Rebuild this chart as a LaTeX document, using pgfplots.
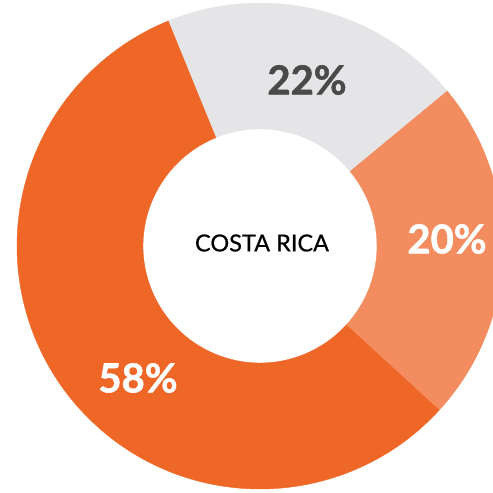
\documentclass[border=0pt]{standalone}
\usepackage{fontspec}
\setmainfont{Lato}
\newfontfamily\pctfont{Lato}[BoldFeatures={FakeBold=1.4}]
\newfontfamily\ctrfont{Lato}[FakeBold=0.5]
\usepackage{pgfplots}
\pgfplotsset{compat=1.18}
\usepackage{pgfplotstable}

\definecolor{slgray}{RGB}{229,229,231}
\definecolor{sllight}{RGB}{243,140,94}
\definecolor{sldark}{RGB}{239,103,39}
\definecolor{lblgray}{RGB}{74,74,74}

% slices as drawn: share (%), start and end angle (deg), colour
% all slices sit at the donut centre (260,247) in picture pixels
\pgfplotstableread{
x   y   share a0     a1     col
260 247 20.2  112.2  39.6   slgray
260 247 22.8  39.6   -42.5  sllight
260 247 57.0  -42.5  -247.8 sldark
}\slices

\begin{document}
\begin{tikzpicture}
\useasboundingbox (0,0) rectangle (493pt,493pt);
\clip (0,0) rectangle (493pt,493pt);
\begin{axis}[
    at={(0,0)}, anchor=south west,
    scale only axis,
    width=493pt, height=493pt,
    xmin=0, xmax=493, ymin=0, ymax=493,
    axis lines=none,
    clip=false,
]
\addplot[
    scatter, only marks,
    point meta=explicit symbolic,
    mark=*, mark size=0.01pt, mark options={draw=none, fill=none},
    visualization depends on={\thisrow{a0} \as \angA},
    visualization depends on={\thisrow{a1} \as \angB},
    scatter/@pre marker code/.code={%
        \fill[\pgfplotspointmeta] (\angA:243pt) arc[start angle=\angA, end angle=\angB, radius=243pt]
            -- (\angB:117pt) arc[start angle=\angB, end angle=\angA, radius=117pt] -- cycle;
    },
    scatter/@post marker code/.code={},
] table[x=x, y=y, meta=col] {\slices};

% label anchors; the text goes on top after the axis (markers are drawn last)
\coordinate (l22) at (axis cs:307,413);
\coordinate (l20) at (axis cs:447,254);
\coordinate (l58) at (axis cs:138,115);
\coordinate (lct) at (axis cs:262,250);
\end{axis}
\node[font=\fontsize{40}{40}\selectfont\pctfont\bfseries, text=lblgray] at (l22) {22\%};
\node[font=\fontsize{40}{40}\selectfont\pctfont\bfseries, text=white] at (l20) {20\%};
\node[font=\fontsize{40}{40}\selectfont\pctfont\bfseries, text=white] at (l58) {58\%};
\node[font=\fontsize{23.5}{24}\selectfont\ctrfont, text=black] at (lct) {COSTA RICA};
\end{tikzpicture}
\end{document}
